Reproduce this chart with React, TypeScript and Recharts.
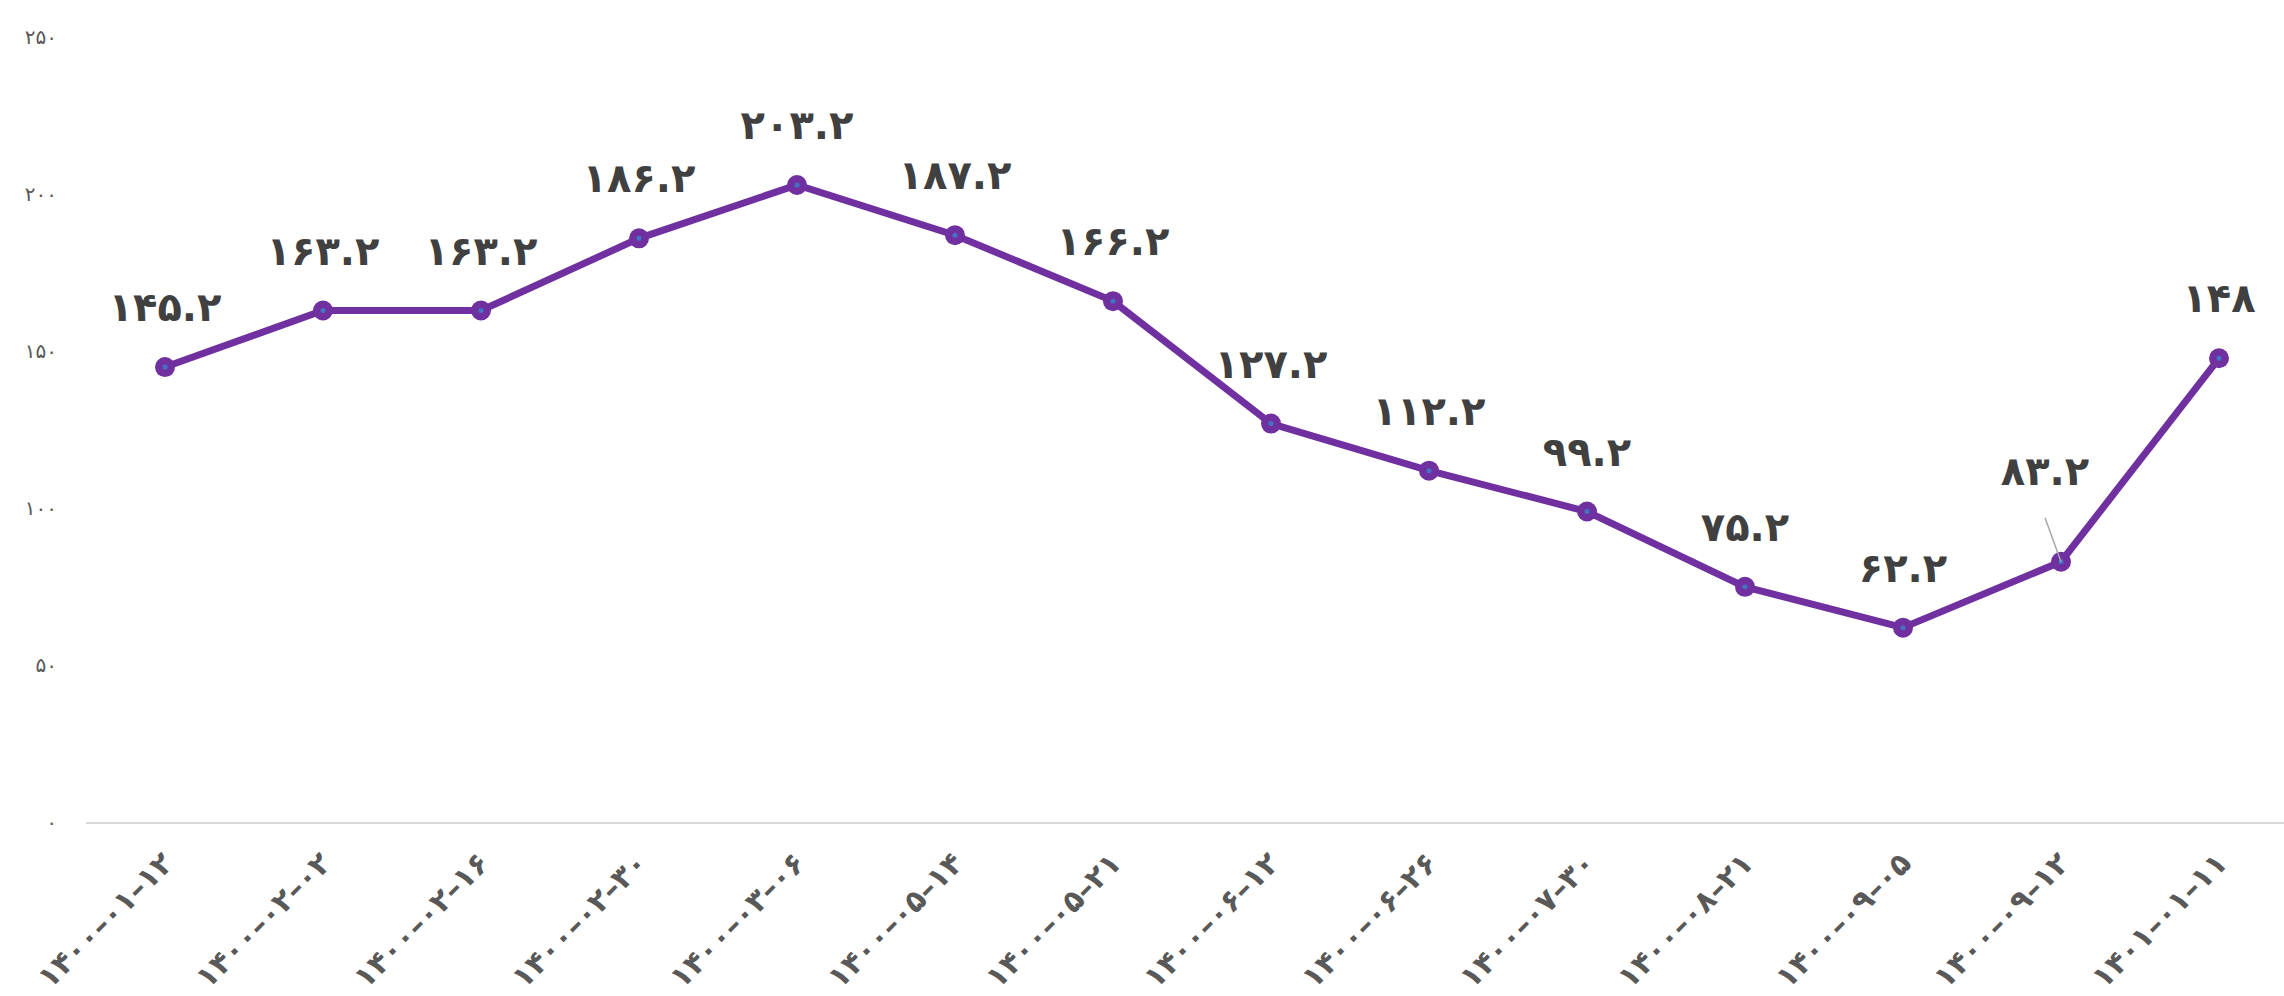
import React from "react";
import { LineChart, Line, XAxis, YAxis } from "recharts";

const dates = [
  "۱۴۰۰-۰۱-۱۲",
  "۱۴۰۰-۰۲-۰۲",
  "۱۴۰۰-۰۲-۱۶",
  "۱۴۰۰-۰۲-۳۰",
  "۱۴۰۰-۰۳-۰۶",
  "۱۴۰۰-۰۵-۱۴",
  "۱۴۰۰-۰۵-۲۱",
  "۱۴۰۰-۰۶-۱۲",
  "۱۴۰۰-۰۶-۲۶",
  "۱۴۰۰-۰۷-۳۰",
  "۱۴۰۰-۰۸-۲۱",
  "۱۴۰۰-۰۹-۰۵",
  "۱۴۰۰-۰۹-۱۲",
  "۱۴۰۱-۰۱-۱۱",
];
const values = [145.2, 163.2, 163.2, 186.2, 203.2, 187.2, 166.2, 127.2, 112.2, 99.2, 75.2, 62.2, 83.2, 148];
const yTicks = [0, 50, 100, 150, 200, 250];

const data = dates.map((d, i) => ({ date: d, value: values[i] }));

const PURPLE = "#7030A0";
const FONT = "'DejaVu Sans', sans-serif";

const toFa = (n: number | string) =>
  String(n).replace(/\d/g, (c) => "۰۱۲۳۴۵۶۷۸۹"[Number(c)]);

function XTick(props: any) {
  const { x, y, payload } = props;
  // wider dashes, like the source font
  const label = String(payload.value).replace(/-/g, "–");
  return (
    <g transform={`translate(${x + 10},${y + 42})`}>
      <text
        textAnchor="end"
        transform="rotate(-45)"
        fill="#595959"
        fontSize={30}
        fontWeight="bold"
        fontFamily={FONT}
        letterSpacing={1}
      >
        {label}
      </text>
    </g>
  );
}

function YTick(props: any) {
  const { x, y, payload } = props;
  return (
    <text x={x} y={y} dy={6} textAnchor="end" fill="#595959" fontSize={20} fontFamily={FONT}>
      {toFa(payload.value)}
    </text>
  );
}

function Dot(props: any) {
  const { cx, cy } = props;
  return (
    <g>
      <circle cx={cx} cy={cy} r={10} fill={PURPLE} />
      <circle cx={cx} cy={cy} r={2.5} fill="#4472C4" />
    </g>
  );
}

function ValueLabel(props: any) {
  const { x, y, value, index } = props;
  // the 83.2 label sits higher with a leader line
  const lifted = index === 12;
  const lx = lifted ? x - 16 : x;
  const ly = lifted ? y - 77 : y - 46;
  return (
    <g>
      {lifted && <line x1={x - 16} y1={y - 44} x2={x} y2={y} stroke="#A6A6A6" strokeWidth={1.5} />}
      <text x={lx} y={ly} textAnchor="middle" fill="#404040" fontSize={40} fontWeight="bold" fontFamily={FONT}>
        {toFa(value)}
      </text>
    </g>
  );
}

export default function App() {
  return (
    <div style={{ position: "absolute", left: 0, top: 0, background: "#fff" }}>
      <LineChart width={2284} height={996} data={data} margin={{ top: 38, right: 0, bottom: 0, left: 0 }}>
        <XAxis
          dataKey="date"
          height={173}
          padding={{ left: 79, right: 65 }}
          axisLine={{ stroke: "#D9D9D9", strokeWidth: 2 }}
          tickLine={false}
          tickSize={0}
          tickMargin={0}
          interval={0}
          tick={<XTick />}
        />
        <YAxis
          width={86}
          domain={[0, 250]}
          ticks={yTicks}
          axisLine={false}
          tickLine={false}
          tickSize={0}
          tickMargin={29}
          tick={<YTick />}
        />
        <Line
          dataKey="value"
          stroke={PURPLE}
          strokeWidth={7}
          dot={<Dot />}
          activeDot={false}
          label={<ValueLabel />}
          isAnimationActive={false}
        />
      </LineChart>
    </div>
  );
}
